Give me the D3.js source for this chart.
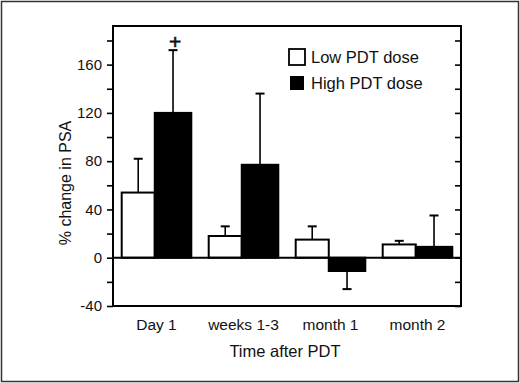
<!DOCTYPE html>
<html>
<head>
<meta charset="utf-8">
<script src="https://cdn.jsdelivr.net/npm/d3@7"></script>
<style>
  html, body { margin: 0; padding: 0; background: #fff; overflow: hidden; }
  svg { display: block; }
  svg text { font-family: "Liberation Sans", Arial, sans-serif; fill: #111; }
</style>
</head>
<body>
<div id="chart"></div>
<script>
// Data
const categories = ["Day 1", "weeks 1-3", "month 1", "month 2"];
const seriesNames = ["Low PDT dose", "High PDT dose"];
const lowValues = [54, 18, 15, 11];
const lowErrors = [82, 26, 26, 14];
const highValues = [120, 77, -11, 9];
const highErrors = [172, 136, -26, 35];
const markers = [{ category: "Day 1", series: 1, value: 179, label: "+" }];
const yMajorTicks = [-40, 0, 40, 80, 120, 160];
const yMinorTicks = [-20, 20, 60, 100, 140, 180];

const width = 520, height = 383;
const margins = { top: 26, right: 59, bottom: 77, left: 113 };
const innerWidth = width - margins.left - margins.right;
const innerHeight = height - margins.top - margins.bottom;

const svg = d3.select("#chart").append("svg")
  .attr("width", width)
  .attr("height", height);

// outer border
svg.append("rect")
  .attr("x", 1.5).attr("y", 1.5)
  .attr("width", width - 3).attr("height", height - 3)
  .attr("fill", "none").attr("stroke", "#333").attr("stroke-width", 1.5);

const g = svg.append("g")
  .attr("transform", `translate(${margins.left},${margins.top})`);

const x = d3.scaleBand()
  .domain(categories)
  .range([0, innerWidth])
  .paddingInner(0.2)
  .paddingOuter(0.1);

const y = d3.scaleLinear()
  .domain([-40, 192])
  .range([innerHeight, 0]);

// low bar slightly narrower than high bar
const lowFrac = 0.475;
const bw = x.bandwidth();

const rows = categories.map((c, i) => [
  { cat: c, s: 0, v: lowValues[i], e: lowErrors[i], x0: x(c), w: bw * lowFrac },
  { cat: c, s: 1, v: highValues[i], e: highErrors[i], x0: x(c) + bw * lowFrac, w: bw * (1 - lowFrac) }
]).flat();

// error bars (drawn behind bars)
const errG = g.append("g").attr("class", "errors")
  .attr("stroke", "#000").attr("stroke-width", 1.6);
errG.selectAll("line.stem").data(rows).join("line")
  .attr("class", "stem")
  .attr("x1", d => d.x0 + d.w / 2).attr("x2", d => d.x0 + d.w / 2)
  .attr("y1", d => y(d.v)).attr("y2", d => y(d.e));
errG.selectAll("line.cap").data(rows).join("line")
  .attr("class", "cap")
  .attr("stroke-width", 2)
  .attr("x1", d => d.x0 + d.w / 2 - 4.5).attr("x2", d => d.x0 + d.w / 2 + 4.5)
  .attr("y1", d => y(d.e)).attr("y2", d => y(d.e));

// bars
g.append("g").attr("class", "bars")
  .selectAll("rect").data(rows).join("rect")
  .attr("x", d => d.x0)
  .attr("y", d => y(Math.max(0, d.v)))
  .attr("width", d => d.w)
  .attr("height", d => Math.abs(y(d.v) - y(0)))
  .attr("fill", d => d.s === 0 ? "#fff" : "#000")
  .attr("stroke", "#000")
  .attr("stroke-width", 2);

// zero line
g.append("line")
  .attr("x1", 0).attr("x2", innerWidth)
  .attr("y1", y(0)).attr("y2", y(0))
  .attr("stroke", "#000").attr("stroke-width", 2);

// markers
g.selectAll("text.marker").data(markers).join("text")
  .attr("class", "marker")
  .attr("x", d => x(d.category) + bw * lowFrac + bw * (1 - lowFrac) / 2 + 2)
  .attr("y", d => y(d.value))
  .attr("dy", "0.35em")
  .attr("text-anchor", "middle")
  .attr("font-size", "21px")
  .attr("stroke", "#111").attr("stroke-width", 0.6)
  .text(d => d.label);

// axes
const allTicks = [...yMajorTicks, ...yMinorTicks].sort((a, b) => a - b);
const leftAxis = g.append("g")
  .call(d3.axisLeft(y).tickValues(allTicks).tickSize(6).tickPadding(5)
    .tickFormat(d => yMajorTicks.includes(d) ? d : ""));
const rightAxis = g.append("g")
  .attr("transform", `translate(${innerWidth},0)`)
  .call(d3.axisLeft(y).tickValues(allTicks).tickSize(6).tickFormat(""));
[leftAxis, rightAxis].forEach(a => {
  a.select(".domain").remove();
  a.selectAll(".tick line").attr("stroke", "#000").attr("stroke-width", 1.6);
  a.selectAll(".tick text").filter(function () { return this.textContent === ""; }).remove();
});
leftAxis.selectAll(".tick text").attr("font-size", "15px").attr("fill", "#111");

// frame
g.append("rect")
  .attr("width", innerWidth).attr("height", innerHeight)
  .attr("fill", "none").attr("stroke", "#000").attr("stroke-width", 2);

// x category labels
g.selectAll("text.cat").data(categories).join("text")
  .attr("class", "cat")
  .attr("x", d => x(d) + bw / 2)
  .attr("y", innerHeight + 24)
  .attr("text-anchor", "middle")
  .attr("font-size", "15.5px")
  .text(d => d);

// axis titles
g.append("text")
  .attr("x", innerWidth / 2 - 2)
  .attr("y", innerHeight + 51)
  .attr("text-anchor", "middle")
  .attr("font-size", "16.5px")
  .text("Time after PDT");

g.append("text")
  .attr("transform", "rotate(-90)")
  .attr("x", -(183 - margins.top))
  .attr("y", -42)
  .attr("text-anchor", "middle")
  .attr("font-size", "16px")
  .text("% change in PSA");

// legend
const legend = g.append("g").attr("transform", "translate(176,23)");
const legendRows = legend.selectAll("g").data(seriesNames).join("g")
  .attr("transform", (d, i) => `translate(0,${i * 26})`);
legendRows.append("rect")
  .attr("x", (d, i) => i === 0 ? 0 : 1)
  .attr("y", (d, i) => i === 0 ? 0 : 1)
  .attr("width", (d, i) => i === 0 ? 16 : 14)
  .attr("height", (d, i) => i === 0 ? 16 : 14)
  .attr("fill", (d, i) => i === 0 ? "#fff" : "#000")
  .attr("stroke", (d, i) => i === 0 ? "#000" : "none")
  .attr("stroke-width", 1.8);
legendRows.append("text")
  .attr("x", 22)
  .attr("y", 14)
  .attr("font-size", "16.5px")
  .text(d => d);
</script>
</body>
</html>
